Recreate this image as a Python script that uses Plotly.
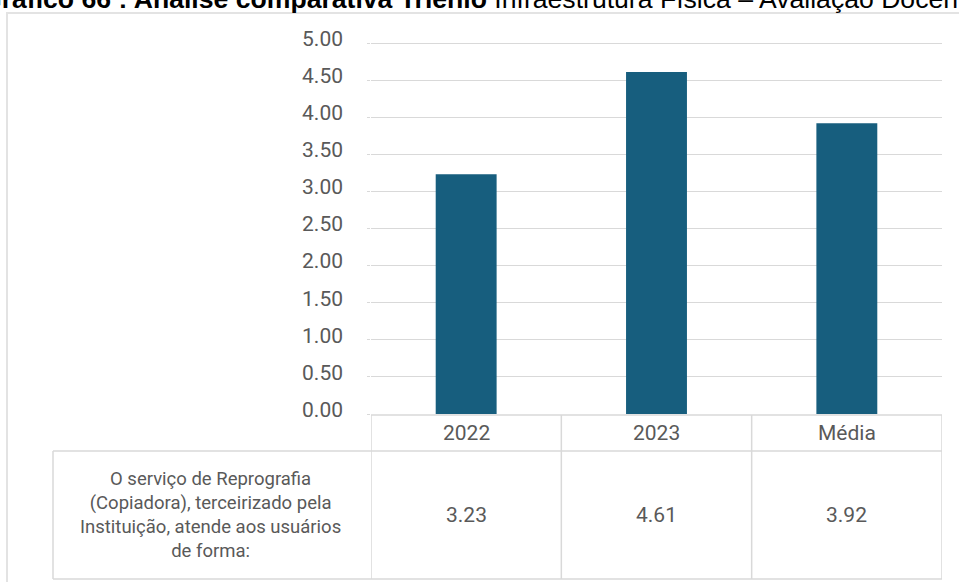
import plotly.graph_objects as go

# ---- data ----
categories = ["2022", "2023", "Média"]
values = [3.23, 4.61, 3.92]
value_labels = ["3.23", "4.61", "3.92"]
row_label = "O serviço de Reprografia<br>(Copiadora), terceirizado pela<br>Instituição, atende aos usuários<br>de forma:"
y_ticks = [0, 0.5, 1, 1.5, 2, 2.5, 3, 3.5, 4, 4.5, 5]
y_tick_text = ["0.00", "0.50", "1.00", "1.50", "2.00", "2.50", "3.00", "3.50", "4.00", "4.50", "5.00"]
title_bold = "Gráfico 66 : Análise comparativa Triênio"
title_rest = "Infraestrutura Física – Avaliação Docente"

W, H = 959, 582
L, R, T, B = 371, 17, 33, 168
PW = W - L - R
PH = H - T - B
Y_TOP = 43                      # pixel of value 5
UNIT = (H - B - Y_TOP) / 5.0    # pixels per unit
SPAN = PH / UNIT                # range covering whole plot height
SHIFT = 4.5 / UNIT              # labels sit slightly above their gridlines

def px(xp):
    return (xp - L) / PW

def py(yp):
    return (H - B - yp) / PH

NARROW = "Liberation Sans Narrow, Arial Narrow, Roboto, sans-serif"
GRID = "#d9d9d9"
TXT = "#595959"

fig = go.Figure()
fig.add_trace(go.Bar(
    x=categories, y=values, width=0.32,
    marker=dict(color="#175E7E", line=dict(width=0)),
    hoverinfo="skip",
))
fig.add_trace(go.Scatter(x=[], y=[], yaxis="y2", hoverinfo="skip", showlegend=False))

fig.update_layout(
    width=W, height=H,
    margin=dict(l=L, r=R, t=T, b=B, autoexpand=False),
    paper_bgcolor="white", plot_bgcolor="white",
    showlegend=False,
    xaxis=dict(type="category", range=[-0.5, 2.5], showticklabels=False, showgrid=False,
               zeroline=False, showline=False, fixedrange=True),
    yaxis=dict(range=[0, SPAN], tickvals=y_ticks,
               showticklabels=False,
               showgrid=True, gridcolor=GRID, gridwidth=1,
               zeroline=False, showline=False,
               ticks="outside", ticklen=3, tickcolor=GRID),
    yaxis2=dict(overlaying="y", anchor="x", side="left",
                range=[-SHIFT, SPAN - SHIFT],
                tickvals=y_ticks, ticktext=y_tick_text,
                showgrid=False, zeroline=False, showline=False, ticks="",
                ticklabelstandoff=27,
                tickfont=dict(family=NARROW, size=21, color=TXT)),
)

shapes = []
# outer frame
shapes.append(dict(type="rect", xref="paper", yref="paper",
                   x0=px(7), x1=px(990), y0=py(620), y1=py(13),
                   line=dict(color="#e3e3e3", width=2), layer="below"))
# table
y_top, y_mid, y_bot = py(415), py(451), py(579)
shapes.append(dict(type="line", xref="x", yref="paper", x0=-0.5, x1=2.5,
                   y0=y_top, y1=y_top, line=dict(color=GRID, width=1.5)))
shapes.append(dict(type="line", xref="paper", yref="paper", x0=px(53), x1=1,
                   y0=y_mid, y1=y_mid, line=dict(color=GRID, width=1.5)))
shapes.append(dict(type="line", xref="paper", yref="paper", x0=px(53), x1=1,
                   y0=y_bot, y1=y_bot, line=dict(color=GRID, width=1.5)))
shapes.append(dict(type="line", xref="paper", yref="paper", x0=px(53), x1=px(53),
                   y0=y_mid, y1=y_bot, line=dict(color=GRID, width=1.5)))
for xv in [-0.5, 0.5, 1.5, 2.5]:
    shapes.append(dict(type="line", xref="x", yref="paper", x0=xv, x1=xv,
                       y0=y_top, y1=y_bot, line=dict(color=GRID, width=1.5)))
fig.update_layout(shapes=shapes)

ann = []
for i, c in enumerate(categories):
    ann.append(dict(x=i, xref="x", y=py(433), yref="paper", text=c,
                    showarrow=False, xanchor="center", yanchor="middle",
                    font=dict(family=NARROW, size=21, color=TXT)))
for i, v in enumerate(value_labels):
    ann.append(dict(x=i, xref="x", y=py(515), yref="paper", text=v,
                    showarrow=False, xanchor="center", yanchor="middle",
                    font=dict(family=NARROW, size=21, color=TXT)))
ann.append(dict(x=px(210), xref="paper", y=py(515), yref="paper", text=row_label,
                showarrow=False, xanchor="center", yanchor="middle", align="center",
                font=dict(family=NARROW, size=18.5, color=TXT)))
ann.append(dict(x=px(-21), xref="paper", y=py(16), yref="paper",
                text=f"<b>{title_bold}</b> {title_rest}",
                showarrow=False, xanchor="left", yanchor="bottom", align="left",
                font=dict(family="Liberation Sans, Arial, sans-serif", size=26.6, color="black")))
fig.update_layout(annotations=ann)

fig.write_html("out.html", config={"displayModeBar": False},
               post_script="document.body.style.margin='0';")
